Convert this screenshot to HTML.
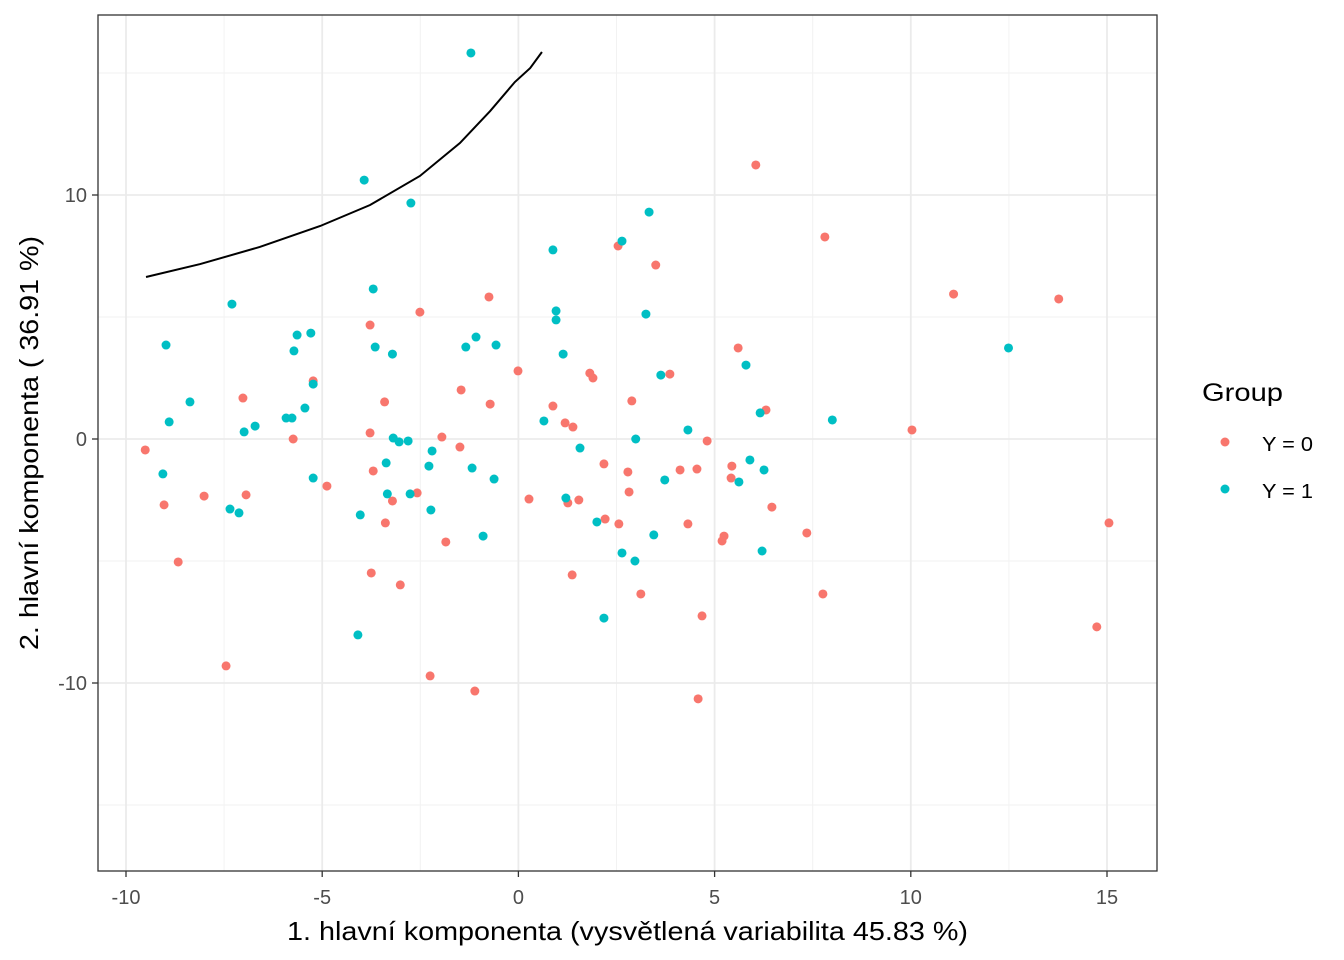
<!DOCTYPE html>
<html><head><meta charset="utf-8">
<style>
html,body{margin:0;padding:0;background:#fff;}
svg{display:block;font-family:"Liberation Sans",Arial,sans-serif;}
</style></head>
<body>
<svg id="chart" width="1344" height="960" viewBox="0 0 1344 960">
  <rect x="0" y="0" width="1344" height="960" fill="#fff"/>
  <g id="grid"></g>
  <path id="curve" fill="none" stroke="#000" stroke-width="2"/>
  <g id="points"></g>
  <rect x="98" y="15" width="1059" height="856" fill="none" stroke="#333" stroke-width="1.3"/>
  <g id="axes"></g>
  <text x="287" y="940" font-size="26" textLength="681" lengthAdjust="spacingAndGlyphs" fill="#000">1. hlavní komponenta (vysvětlená variabilita 45.83 %)</text>
  <text transform="translate(38,650) rotate(-90)" font-size="26" textLength="414" lengthAdjust="spacingAndGlyphs" fill="#000">2. hlavní komponenta ( 36.91 %)</text>
  <g>
    <text x="1202" y="401" font-size="25" textLength="81" lengthAdjust="spacingAndGlyphs" fill="#000">Group</text>
    <circle cx="1225" cy="442" r="4.5" fill="#F8766D"/>
    <text x="1262" y="451" font-size="20" textLength="51" lengthAdjust="spacingAndGlyphs" fill="#000">Y = 0</text>
    <circle cx="1225" cy="489" r="4.5" fill="#00BFC4"/>
    <text x="1262" y="498" font-size="20" textLength="51" lengthAdjust="spacingAndGlyphs" fill="#000">Y = 1</text>
  </g>
</svg>
<script>
const xTicks = [-10,-5,0,5,10,15];
const yTicks = [-10,0,10];
const xMinor = [-7.5,-2.5,2.5,7.5,12.5];
const yMinor = [-15,-5,5,15];
const red_x = [-9.51,-9.03,-8.67,-8.01,-7.45,-7.02,-6.94,-5.74,-5.23,-4.88,-3.78,-3.78,-3.70,-3.75,-3.41,-3.39,-3.21,-3.01,-2.58,-2.51,-2.25,-1.95,-1.85,-1.49,-1.46,-1.11,-0.75,-0.72,-0.01,0.27,0.88,1.19,1.26,1.39,1.37,1.54,1.82,1.90,2.18,2.21,2.54,2.56,2.79,2.82,2.89,3.12,3.50,3.86,4.12,4.32,4.55,4.58,4.68,4.81,5.19,5.24,5.42,5.44,5.60,6.31,6.46,6.05,7.35,7.76,7.81,10.03,11.09,13.77,14.74,15.05];
const red_y = [-0.45,-2.70,-5.04,-2.34,-9.30,1.68,-2.29,0,2.38,-1.93,4.67,0.25,-1.31,-5.49,1.52,-3.44,-2.54,-5.98,-2.21,5.20,-9.71,0.08,-4.22,-0.33,2.01,-10.33,5.82,1.43,2.79,-2.46,1.35,0.66,-2.62,0.49,-5.57,-2.50,2.70,2.50,-1.02,-3.28,7.91,-3.48,-1.35,-2.17,1.56,-6.35,7.13,2.66,-1.27,-3.48,-1.23,-10.65,-7.25,-0.08,-4.18,-3.98,-1.60,-1.11,3.73,1.19,-2.79,11.23,-3.85,-6.35,8.28,0.37,5.94,5.74,-7.70,-3.44];
const blue_x = [-9.06,-8.98,-8.90,-8.37,-7.35,-7.30,-7.12,-6.99,-6.71,-5.92,-5.77,-5.72,-5.64,-5.44,-5.29,-5.23,-5.23,-4.03,-4.09,-3.93,-3.70,-3.65,-3.37,-3.34,-3.21,-3.19,-3.04,-2.81,-2.76,-2.74,-2.28,-2.23,-2.20,-1.34,-1.21,-1.18,-1.08,-0.90,-0.62,-0.57,0.65,0.88,0.96,0.96,1.14,1.21,1.57,2.00,2.18,2.64,2.64,2.97,2.99,3.25,3.33,3.45,3.63,3.73,4.32,5.62,5.80,5.90,6.16,6.21,6.26,8.00,12.49];
const blue_y = [-1.43,3.85,0.70,1.52,-2.87,5.53,-3.03,0.29,0.53,0.86,0.86,3.61,4.26,1.27,4.34,-1.60,2.25,-3.11,-8.03,10.61,6.15,3.77,-0.98,-2.25,3.48,0.04,-0.12,-0.08,-2.25,9.67,-1.11,-2.91,-0.49,3.77,15.82,-1.19,4.18,-3.98,-1.64,3.85,0.74,7.75,5.25,4.88,3.48,-2.42,-0.37,-3.40,-7.34,-4.67,8.11,-5.00,0,5.12,9.30,-3.93,2.62,-1.68,0.37,-1.76,3.03,-0.86,1.07,-4.59,-1.27,0.78,3.73];
const curve_x = [-9.49,-8.11,-6.59,-5.05,-3.78,-2.51,-1.49,-0.72,-0.09,0.30,0.60];
const curve_y = [6.64,7.17,7.87,8.73,9.59,10.78,12.13,13.44,14.63,15.20,15.86];

const NS = "http://www.w3.org/2000/svg";
const X = v => 518.4 + v * 39.24;
const Y = v => 439 - v * 24.4;
function mk(tag, attrs, parent){ const e=document.createElementNS(NS,tag); for(const k in attrs) e.setAttribute(k,attrs[k]); parent.appendChild(e); return e; }
const grid=document.getElementById('grid'), axes=document.getElementById('axes'), pts=document.getElementById('points');
xMinor.forEach(v=>{ const l=mk('line',{x1:X(v),x2:X(v),y1:15,y2:871,stroke:'#f2f2f2','stroke-width':1},grid);

 });
yMinor.forEach(v=>{ const l=mk('line',{x1:98,x2:1157,y1:Y(v),y2:Y(v),stroke:'#f2f2f2','stroke-width':1},grid);

 });
xTicks.forEach(v=>{ const l=mk('line',{x1:X(v),x2:X(v),y1:15,y2:871,stroke:'#ebebeb','stroke-width':1.8},grid);


const t=mk('line',{x1:X(v),x2:X(v),y1:871,y2:877,stroke:'#333','stroke-width':1.3},axes);


const tx=mk('text',{x:X(v),y:904,'font-size':20,'text-anchor':'middle',fill:'#4d4d4d'},axes); tx.textContent=v;

 });
yTicks.forEach(v=>{ const l=mk('line',{x1:98,x2:1157,y1:Y(v),y2:Y(v),stroke:'#ebebeb','stroke-width':1.8},grid);


const t=mk('line',{x1:92,x2:98,y1:Y(v),y2:Y(v),stroke:'#333','stroke-width':1.3},axes);


const tx=mk('text',{x:87,y:Y(v)+7,'font-size':20,'text-anchor':'end',fill:'#4d4d4d'},axes); tx.textContent=v;

 });
document.getElementById('curve').setAttribute('d', curve_x.map((v,i)=>(i?'L':'M')+X(v)+','+Y(curve_y[i])).join(' '));
red_x.forEach((v,i)=>{ const c=mk('circle',{cx:X(v),cy:Y(red_y[i]),r:4.5,fill:'#F8766D'},pts);

 });
blue_x.forEach((v,i)=>{ const c=mk('circle',{cx:X(v),cy:Y(blue_y[i]),r:4.5,fill:'#00BFC4'},pts);

 });
</script>
</body></html>
